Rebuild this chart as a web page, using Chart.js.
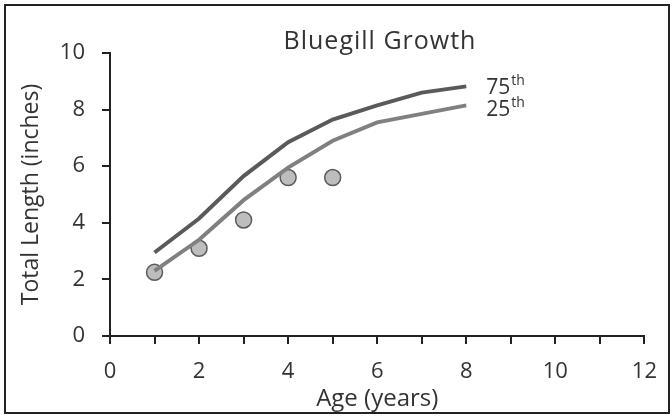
<!DOCTYPE html>
<html>
<head>
<meta charset="utf-8">
<script src="https://cdn.jsdelivr.net/npm/chart.js@4.4.1/dist/chart.umd.min.js"></script>
<style>
  html, body { margin: 0; padding: 0; background: #fff; }
  #wrap { width: 672px; height: 418px; position: relative; }
</style>
</head>
<body>
<div id="wrap"><canvas id="chart" width="672" height="418"></canvas></div>
<script>
// ── Data ───────────────────────────────────────────────────────────────────
const ages       = [1, 2, 3, 4, 5, 6, 7, 8];
const p75        = [2.95, 4.15, 5.65, 6.85, 7.65, 8.15, 8.6, 8.82];
const p25        = [2.3, 3.4, 4.8, 5.95, 6.9, 7.55, 7.85, 8.15];
const sampleAges = [1, 2, 3, 4, 5];
const sampleLen  = [2.25, 3.1, 4.1, 5.6, 5.6];
const lineNames  = ["75", "25"];

const TEXT = "#333";
const FONT = "'Open Sans', sans-serif";

function pts(xs, ys) { return xs.map((x, i) => ({ x, y: ys[i] })); }

// ── Plugins ────────────────────────────────────────────────────────────────
const frame = {
  id: "frame",
  afterDraw(chart) {
    const { ctx, chartArea: a, scales } = chart;
    ctx.save();
    ctx.strokeStyle = "#222";
    ctx.lineWidth = 2;
    ctx.strokeRect(5, 5, 664, 408);

    ctx.fillStyle = TEXT;
    ctx.textAlign = "center";
    ctx.textBaseline = "alphabetic";
    ctx.font = `25px ${FONT}`;
    ctx.letterSpacing = "1px";
    ctx.fillText("Bluegill Growth", 380, 49);
    ctx.letterSpacing = "0px";

    // percentile labels at line ends
    [p75, p25].forEach((arr, i) => {
      const x = scales.x.getPixelForValue(ages[ages.length - 1]) + 20;
      const y = scales.y.getPixelForValue(arr[arr.length - 1]) + 8 + i * 3;
      ctx.textAlign = "left";
      ctx.font = `21px ${FONT}`;
      ctx.fillText(lineNames[i], x, y);
      const w = ctx.measureText(lineNames[i]).width;
      ctx.font = `14px ${FONT}`;
      ctx.fillText("th", x + w + 1, y - 9);
    });
    ctx.restore();
  }
};

// ── Chart ──────────────────────────────────────────────────────────────────
new Chart(document.getElementById("chart"), {
  type: "scatter",
  data: {
    datasets: [
      {
        label: "75th", data: pts(ages, p75), showLine: true,
        borderColor: "#5a5a5a", borderWidth: 4, pointRadius: 0, tension: 0
      },
      {
        label: "25th", data: pts(ages, p25), showLine: true,
        borderColor: "#808080", borderWidth: 4, pointRadius: 0, tension: 0
      },
      {
        label: "Sample", data: pts(sampleAges, sampleLen), showLine: false,
        backgroundColor: "#bdbdbd", borderColor: "#5a5a5a", borderWidth: 1.5, pointRadius: 8
      }
    ]
  },
  options: {
    responsive: false,
    animation: false,
    layout: { padding: { left: 0, right: 27, top: 53, bottom: 0 } },
    plugins: { legend: { display: false }, tooltip: { enabled: false } },
    scales: {
      x: {
        type: "linear", min: 0, max: 12,
        afterFit(s) { s.height = 82; },
        border: { color: "#222", width: 2 },
        grid: { drawOnChartArea: false, color: "#222", lineWidth: 2, tickLength: 8, tickColor: "#222" },
        ticks: {
          stepSize: 1, color: TEXT, padding: 15,
          font: { family: FONT, size: 22 },
          callback: v => (v % 2 === 0 ? v : "")
        },
        title: {
          display: true, text: "Age (years)", color: TEXT,
          font: { family: FONT, size: 24 }, padding: { top: 0, bottom: 4 }
        }
      },
      y: {
        min: 0, max: 10,
        afterFit(s) { s.width = 110; },
        border: { color: "#222", width: 2 },
        grid: { drawOnChartArea: false, color: "#222", lineWidth: 2, tickLength: 8, tickColor: "#222" },
        ticks: {
          stepSize: 1, color: TEXT, padding: 17,
          font: { family: FONT, size: 22 },
          callback: v => (v % 2 === 0 ? v : "")
        },
        title: {
          display: true, text: "Total Length (inches)", color: TEXT,
          font: { family: FONT, size: 23 }, padding: { top: 18, bottom: 0 }
        }
      }
    }
  },
  plugins: [frame]
});
</script>
</body>
</html>
